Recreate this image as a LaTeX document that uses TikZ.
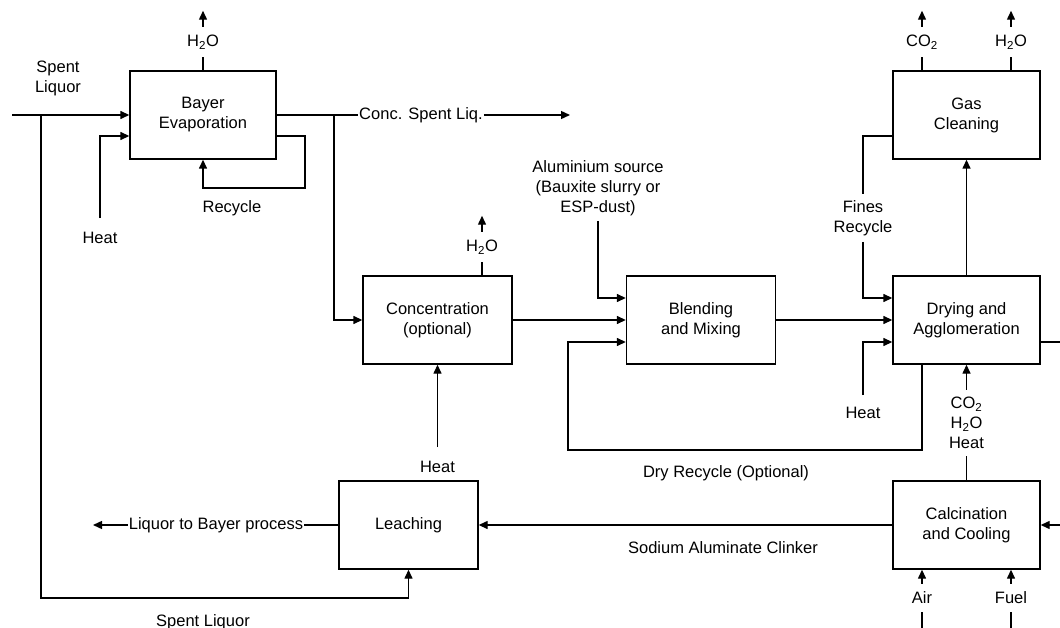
\documentclass[tikz,border=0pt]{standalone}
\usepackage{fontspec}
\setmainfont{Liberation Sans}
\usetikzlibrary{arrows.meta,calc}
\tikzset{
  every picture/.style={line join=miter, >={Triangle[length=9pt,width=8pt]}},
  flow/.style={line width=1.4pt},
  unit/.style={draw, line width=1.4pt, minimum height=88pt, inner sep=2pt, align=center},
  tag/.style={inner xsep=2pt, inner ysep=0pt, align=center},
  heatlbl/.style={inner xsep=2pt, inner ysep=14pt},
}
\newcommand{\water}{H\textsubscript{2}O}
\newcommand{\carbon}{CO\textsubscript{2}}

\begin{document}
\begin{tikzpicture}[x=1pt,y=-1pt,font=\fontsize{16.5}{20}\selectfont]
\useasboundingbox (0,0) rectangle (1060,628);
\node[unit,minimum width=146pt] (evap) at (203,115) {Bayer\\Evaporation};
\node[unit,minimum width=149pt] (conc) at (437.5,320) {Concentration\\(optional)};
\node[unit,minimum width=149pt] (blend) at (701,320) {Blending\\and Mixing};
\node[unit,minimum width=147pt] (dry) at (966.5,320) {Drying and\\Agglomeration};
\node[unit,minimum width=147pt] (gas) at (966.5,115) {Gas\\Cleaning};
\node[unit,minimum width=147pt] (calc) at (966.5,525) {Calcination\\and Cooling};
\node[unit,minimum width=139pt] (leach) at (408.5,525) {Leaching};

\node[tag] (slA) at (58,78) {Spent\\Liquor};
\node[tag] (slB) at (203,622) {Spent Liquor};
\node[tag,inner ysep=8pt] (w1) at (203,42) {\water};
\node[tag,inner ysep=8pt] (w2) at (482,247) {\water};
\node[tag,inner ysep=8pt] (c3) at (922,42) {\carbon};
\node[tag,inner ysep=8pt] (w3) at (1011,42) {\water};
\node[heatlbl] (heat1) at (100,238) {Heat};
\node[heatlbl] (heat2) at (437.5,467) {Heat};
\node[heatlbl,inner ysep=12pt] (heat3) at (863,413) {Heat};
\node[tag] (rcy) at (232,208) {Recycle};
\node[tag,inner xsep=1pt] (csl) at (421,115) {Conc. Spent Liq.};
\node[tag,inner ysep=5pt] (alsrc) at (598,188) {Aluminium source\\(Bauxite slurry or\\ESP-dust)};
\node[tag,inner ysep=6pt] (fines) at (863,218) {Fines\\Recycle};
\node[tag,inner ysep=7pt] (offgas) at (966.5,423) {\carbon\\\water\\Heat};
\node[tag] (dryrc) at (726,473) {Dry Recycle (Optional)};
\node[tag] (clinker) at (723,548) {Sodium Aluminate Clinker};
\node[tag,inner xsep=1pt] (liq) at (216,525) {Liquor to Bayer process};
\node[tag,inner ysep=8pt] (air) at (922,598) {Air};
\node[tag,inner ysep=8pt] (fuel) at (1011,598) {Fuel};

\coordinate (slin) at (12,115);
\coordinate (slbr) at (41,115);
\coordinate (slbot) at (41,598);
\coordinate (rcyc) at (305,188);
\coordinate (cslbr) at (334,115);
\coordinate (cslend) at (570,115);
\coordinate (drybot) at (922,364);
\coordinate (drycorner) at (568,450);
\coordinate (dryout) at (1060,342);
\coordinate (calcin) at (1060,525);
\coordinate (liqend) at (93,525);

\draw[flow,->] (slin) -- (evap.west);
\draw[flow,->] (slbr) -- (slbot) -| (leach.south);
\draw[flow,->] (heat1.north) |- ($(evap.west)+(0,21)$);
\draw[flow,->] ($(evap.east)+(0,21)$) -| (rcyc) -| (evap.south);
\draw[flow] (evap.north) -- (w1.south);
\draw[flow,->] (w1.north) -- +(0,-16);
\draw[flow] (evap.east) -- (csl.west);
\draw[flow,->] (csl.east) -- (cslend);
\draw[flow,->] (cslbr) |- (conc.west);
\draw[flow] (conc.north -| w2) -- (w2.south);
\draw[flow,->] (w2.north) -- +(0,-16);
\draw[flow,->] (heat2.north) -- (conc.south);
\draw[flow,->] (conc.east) -- (blend.west);
\draw[flow,->] (alsrc.south) |- ($(blend.west)+(0,-22)$);
\draw[flow,->] (drybot) |- (drycorner) |- ($(blend.west)+(0,22)$);
\draw[flow,->] (blend.east) -- (dry.west);
\draw[flow] ($(gas.west)+(0,21)$) -| (fines.north);
\draw[flow,->] (fines.south) |- ($(dry.west)+(0,-22)$);
\draw[flow,->] (heat3.north) |- ($(dry.west)+(0,22)$);
\draw[flow,->] (dry.north) -- (gas.south);
\draw[flow] ($(dry.east)+(0,22)$) -- (dryout);
\draw[flow] (gas.north -| c3) -- (c3.south);
\draw[flow,->] (c3.north) -- +(0,-16);
\draw[flow] (gas.north -| w3) -- (w3.south);
\draw[flow,->] (w3.north) -- +(0,-16);
\draw[flow] (calc.north) -- (offgas.south);
\draw[flow,->] (offgas.north) -- (dry.south);
\draw[flow,->] (calcin) -- (calc.east);
\draw[flow,->] (air.north) -- (calc.south -| air);
\draw[flow] (air.south) -- +(0,17);
\draw[flow,->] (fuel.north) -- (calc.south -| fuel);
\draw[flow] (fuel.south) -- +(0,17);
\draw[flow,->] (calc.west) -- (leach.east);
\draw[flow] (leach.west) -- (liq.east);
\draw[flow,->] (liq.west) -- (liqend);
\end{tikzpicture}
\end{document}
